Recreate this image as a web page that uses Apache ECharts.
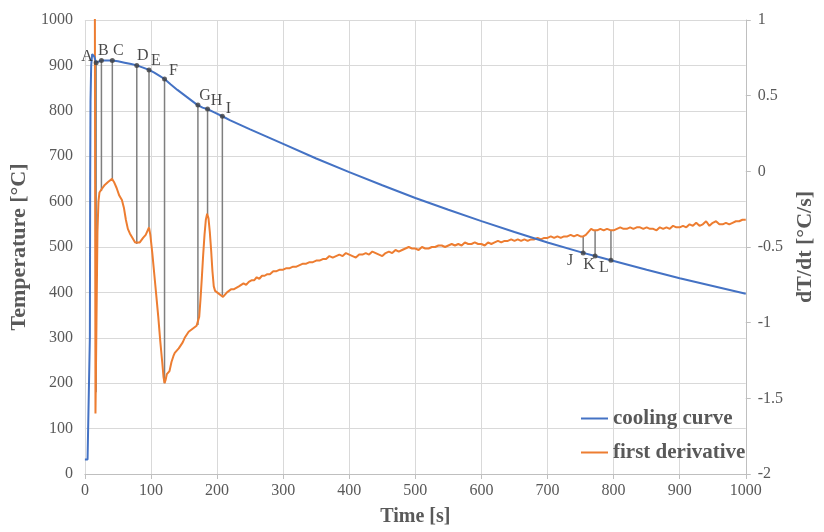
<!DOCTYPE html>
<html>
<head>
<meta charset="utf-8">
<script src="https://cdn.jsdelivr.net/npm/echarts@6/dist/echarts.min.js"></script>
<style>
html,body{margin:0;padding:0;background:#fff;overflow:hidden;width:824px;height:532px;}
#c{width:824px;height:532px;position:absolute;left:0;top:0;}
</style>
</head>
<body>
<div id="c"></div>
<script>
// ---- data ----
var xTicks = [0,100,200,300,400,500,600,700,800,900,1000];

var coolingCurve = [
[0,32],[4,32],[7,33],[7.5,300],[8,650],[8.5,820],[9.5,900],[11,925],[12,928],[14,920],[17,906],
[20,909],[25,911],[30,911],[35,911],[41,911],[50,909],[60,906],[70,903],[78.5,900],[88,895],
[97,890],[105,884],[113,877],[120.5,870],[130,858],[140,846],[150,835],[160,824],[170,813],
[178,807],[185,804],[195,797],[208,788],[220,779],[235,769],[250,759],[275,743],[300,727],
[350,695],[400,665],[450,636],[500,608],[550,582],[600,557],[650,533],[700,510],[754,487],
[772,480],[796,471],[850,450],[900,431],[950,414],[1000,397]
];

var firstDerivative = [
[15,1.3],[16,-1.6],[17.5,-1.0],[19,-0.4],[20.5,-0.2],[22,-0.14],[25,-0.12],[30,-0.09],[35,-0.07],
[41,-0.05],[44,-0.07],[48,-0.11],[52,-0.16],[56,-0.19],[59,-0.24],[62,-0.32],[65,-0.38],[68,-0.41],
[72,-0.44],[76,-0.47],[79,-0.48],[83,-0.47],[88,-0.44],[92,-0.42],[95,-0.39],[97,-0.37],[99,-0.42],
[102,-0.54],[105,-0.68],[108,-0.82],[111,-0.96],[114,-1.12],[117,-1.26],[119,-1.36],[120.5,-1.40],
[122,-1.38],[124,-1.34],[126,-1.35],[128,-1.32],[131,-1.26],[134,-1.22],[136,-1.20],[139,-1.21],
[142,-1.17],[145,-1.15],[148,-1.13],[151,-1.10],[154,-1.09],[157,-1.06],[160,-1.05],[163,-1.04],
[166,-1.03],[169,-1.02],[171,-1.01],[173,-0.96],[175,-0.84],[177,-0.70],[179,-0.55],[181,-0.42],
[183,-0.32],[185,-0.28],[187,-0.31],[189,-0.40],[191,-0.52],[193,-0.66],[195,-0.76],[197,-0.79],
[200,-0.80],[203,-0.81],[206,-0.82],[209,-0.83],[212,-0.82],[215,-0.80],[218,-0.79],[221,-0.78],
[225,-0.78],[229,-0.77],[233,-0.76],[236,-0.77],[240,-0.74],[244,-0.75],[248,-0.73],[252,-0.72],
[256,-0.72],[260,-0.70],[264,-0.71],[268,-0.69],[272,-0.69],[276,-0.68],[280,-0.68],[285,-0.66],
[290,-0.66],[295,-0.65],[300,-0.65],[305,-0.64],[310,-0.64],[315,-0.63],[320,-0.63],[325,-0.62],
[330,-0.61],[335,-0.61],[340,-0.60],[345,-0.60],[350,-0.59],[355,-0.59],[360,-0.58],[365,-0.58],
[370,-0.56],[375,-0.57],[380,-0.56],[385,-0.55],[390,-0.56],[395,-0.54],[400,-0.55],[405,-0.56],
[410,-0.57],[415,-0.55],[420,-0.55],[425,-0.54],[430,-0.55],[435,-0.53],[440,-0.54],[445,-0.55],
[450,-0.56],[455,-0.54],[460,-0.53],[465,-0.54],[470,-0.52],[475,-0.53],[480,-0.52],[485,-0.51],
[490,-0.50],[495,-0.51],[500,-0.51],[505,-0.52],[510,-0.50],[515,-0.51],[520,-0.51],[525,-0.50],
[530,-0.50],[535,-0.49],[540,-0.49],[545,-0.50],[550,-0.49],[555,-0.48],[560,-0.49],[565,-0.48],
[570,-0.49],[575,-0.47],[580,-0.48],[585,-0.48],[590,-0.47],[595,-0.48],[600,-0.48],[605,-0.49],
[610,-0.47],[615,-0.48],[620,-0.47],[625,-0.46],[630,-0.47],[635,-0.46],[640,-0.46],[645,-0.45],
[650,-0.46],[655,-0.45],[660,-0.46],[665,-0.45],[670,-0.46],[675,-0.45],[680,-0.45],[685,-0.44],
[690,-0.45],[695,-0.44],[700,-0.44],[705,-0.43],[710,-0.44],[715,-0.43],[720,-0.44],[725,-0.43],
[730,-0.43],[735,-0.42],[740,-0.43],[745,-0.42],[750,-0.43],[754,-0.43],[758,-0.42],[762,-0.40],
[766,-0.38],[770,-0.39],[775,-0.39],[780,-0.38],[785,-0.39],[790,-0.38],[796,-0.39],[800,-0.39],
[805,-0.38],[810,-0.37],[815,-0.38],[820,-0.38],[825,-0.37],[830,-0.38],[835,-0.37],[840,-0.37],
[845,-0.38],[850,-0.37],[855,-0.38],[860,-0.38],[865,-0.39],[870,-0.37],[875,-0.38],[880,-0.37],
[885,-0.38],[890,-0.36],[895,-0.37],[900,-0.37],[905,-0.36],[910,-0.37],[915,-0.35],[920,-0.36],
[925,-0.34],[930,-0.36],[935,-0.35],[940,-0.33],[945,-0.36],[950,-0.34],[955,-0.33],[960,-0.35],
[965,-0.35],[970,-0.34],[975,-0.35],[980,-0.34],[985,-0.33],[990,-0.33],[995,-0.32],[1000,-0.32]
];

var pointNames  = ['A','B','C','D','E','F','G','H','I','J','K','L'];
var pointTimes  = [17, 25, 41.5, 78.5, 97, 120.5, 171, 185.6, 208, 754, 772, 796];
var pointTemps  = [906, 911, 911, 900, 890, 870, 813, 804, 788, 487, 480, 471];
var pointDerivs = [-1.46, -0.13, -0.05, -0.48, -0.37, -1.40, -1.015, -0.285, -0.82, -0.43, -0.39, -0.39];

// label offsets (style only)
var labelOffsets = [[-9,-6],[2,-10],[6,-10],[6,-10],[7,-9],[9,-8],[7,-9],[9,-8],[6,-7],[-13,8],[-6,9],[-7,8]];

// ---- chart ----
var chart = echarts.init(document.getElementById('c'), null, {renderer:'canvas', width:824, height:532});
var serif = '"Liberation Serif","DejaVu Serif",serif';
var gray = '#595959';

var pointData = pointNames.map(function(n,i){
  return {name:n, value:[pointTimes[i], pointTemps[i]],
    label:{offset:labelOffsets[i]}};
});
var dropData = pointNames.map(function(n,i){
  return [pointTimes[i], pointTemps[i], pointDerivs[i]];
});
function plain(v){ return String(v); }

var option = {
  animation:false,
  backgroundColor:'#fff',
  grid:{left:82,right:67,top:20,bottom:53,containLabel:false},
  legend:{
    data:[{name:'cooling curve', icon:'rect'},{name:'first derivative', icon:'rect'}],
    orient:'vertical', left:576, top:403,
    itemWidth:27, itemHeight:2, itemGap:13,
    textStyle:{fontFamily:serif, fontWeight:'bold', fontSize:21, color:gray}
  },
  xAxis:{
    type:'value', min:0, max:1000, interval:100,
    name:'Time [s]', nameLocation:'middle', nameGap:33,
    nameTextStyle:{fontFamily:serif, fontWeight:'bold', fontSize:20, color:gray},
    axisLine:{show:true, lineStyle:{color:'#bfbfbf', width:1}},
    axisTick:{show:true, length:5, lineStyle:{color:'#bfbfbf'}},
    axisLabel:{fontFamily:serif, fontSize:16, color:gray, margin:9, formatter:plain},
    splitLine:{show:true, lineStyle:{color:'#d9d9d9', width:1}}
  },
  yAxis:[{
    type:'value', min:0, max:1000, interval:100,
    name:'Temperature [°C]', nameLocation:'middle', nameGap:42, nameRotate:90,
    nameTextStyle:{fontFamily:serif, fontWeight:'bold', fontSize:22, color:gray},
    axisLine:{show:false}, axisTick:{show:false},
    axisLabel:{fontFamily:serif, fontSize:16, color:gray, margin:12, formatter:plain},
    splitLine:{show:true, lineStyle:{color:'#d9d9d9', width:1}}
  },{
    type:'value', min:-2, max:1, interval:0.5, position:'right',
    name:'dT/dt [°C/s]', nameLocation:'middle', nameGap:46, nameRotate:90,
    nameTextStyle:{fontFamily:serif, fontWeight:'bold', fontSize:22, color:gray},
    axisLine:{show:true, lineStyle:{color:'#bfbfbf', width:1}},
    axisTick:{show:true, length:5, lineStyle:{color:'#bfbfbf'}},
    axisLabel:{fontFamily:serif, fontSize:16, color:gray, margin:12, formatter:plain},
    splitLine:{show:false}
  }],
  series:[
    {
      type:'custom', name:'drops', xAxisIndex:0, yAxisIndex:0, z:1,
      data:dropData, silent:true,
      renderItem:function(params, api){
        var t = api.value(0), T = api.value(1), d = api.value(2);
        var p1 = api.coord([t, T]);
        var y2 = chart.convertToPixel({yAxisIndex:1}, d);
        if (!isFinite(y2)) return null;
        return {type:'line', shape:{x1:p1[0], y1:p1[1], x2:p1[0], y2:y2},
          style:{stroke:'#7f7f7f', lineWidth:1.5}};
      }
    },
    {
      name:'cooling curve', type:'line', xAxisIndex:0, yAxisIndex:0, z:3,
      data:coolingCurve, showSymbol:false, symbol:'none',
      lineStyle:{color:'#4472C4', width:2}, itemStyle:{color:'#4472C4'}
    },
    {
      name:'first derivative', type:'line', xAxisIndex:0, yAxisIndex:1, z:2,
      data:firstDerivative, showSymbol:false, symbol:'none', clip:true,
      lineStyle:{color:'#ED7D31', width:2}, itemStyle:{color:'#ED7D31'}
    },
    {
      name:'points', type:'scatter', xAxisIndex:0, yAxisIndex:0, z:5,
      data:pointData, symbolSize:5, itemStyle:{color:'#404040'},
      label:{show:true, position:'inside', formatter:'{b}',
        fontFamily:serif, fontSize:16, color:'#1a1a1a'}
    }
  ]
};
chart.setOption(option);
</script>
</body>
</html>
